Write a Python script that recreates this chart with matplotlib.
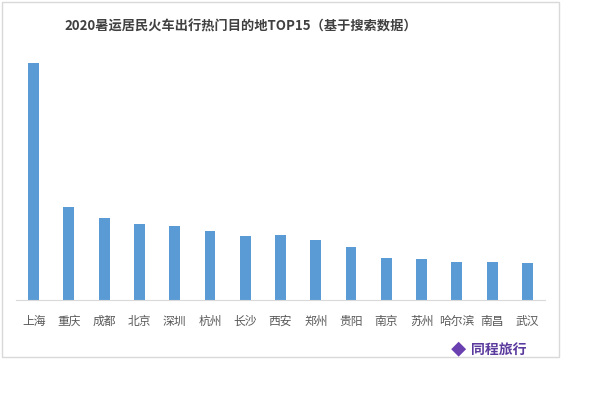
import matplotlib
matplotlib.use("Agg")
import matplotlib.pyplot as plt
from matplotlib.patches import Rectangle

plt.rcParams['font.family'] = ['Noto Sans CJK SC', 'DejaVu Sans']

cities = ["上海", "重庆", "成都", "北京", "深圳", "杭州", "长沙", "西安",
          "郑州", "贵阳", "南京", "苏州", "哈尔滨", "南昌", "武汉"]
values = [237, 93, 82, 76, 74, 69, 64, 65, 60, 53, 42, 41, 38, 38, 37]
title = "2020暑运居民火车出行热门目的地TOP15（基于搜索数据）"

fig = plt.figure(figsize=(6, 3.99), dpi=100)

# light frame round the chart
fig.patches.append(Rectangle((2 / 600, 42 / 399), 557 / 600, 355 / 399,
                             transform=fig.transFigure, fill=False,
                             edgecolor="#d9d9d9", linewidth=1))

ax = fig.add_axes([16 / 600, 99 / 399, 529 / 600, 250 / 399])
x = range(len(cities))
ax.bar(x, values, width=0.31, color="#5b9bd5")
ax.set_xlim(-0.5, len(cities) - 0.5)
ax.set_ylim(0, 250)
ax.set_xticks(list(x))
ax.set_xticklabels(cities, fontsize=8.5, color="#595959")
ax.tick_params(axis="x", length=0, pad=11)
ax.set_yticks([])
for side in ["left", "right", "top"]:
    ax.spines[side].set_visible(False)
ax.spines["bottom"].set_color("#d9d9d9")

fig.text(241 / 600, 1 - 27 / 399, title, ha="center", va="center",
         fontsize=9.5, fontweight="bold", color="#404040")

# logo
fig.text(458 / 600, 1 - 350 / 399, "◆", ha="center", va="center",
         fontsize=11, color="#6a3fb0")
fig.text(527 / 600, 1 - 350 / 399, "同程旅行", ha="right", va="center",
         fontsize=10, fontweight="bold", style="italic", color="#5b3a9e")

fig.savefig("out.png", dpi=100)
